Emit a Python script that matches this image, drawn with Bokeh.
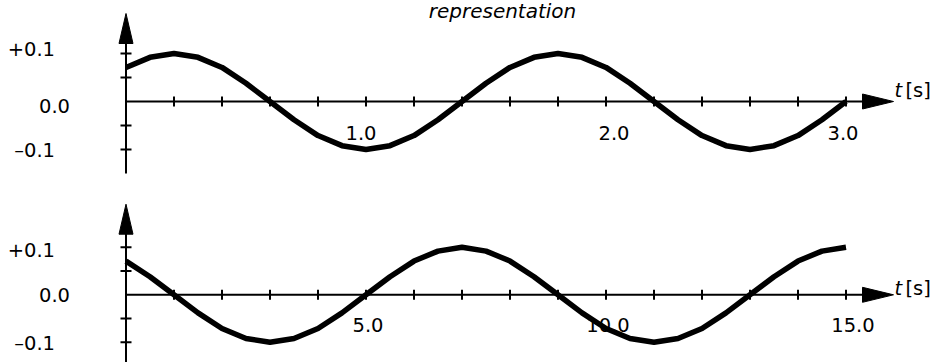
from bokeh.plotting import figure
from bokeh.layouts import column
from bokeh.models import Range1d
from bokeh.core.properties import value
from bokeh.embed import file_html
from bokeh.resources import INLINE

# ---------------- data ----------------
t_top = [0.0, 0.1, 0.2, 0.3, 0.4, 0.5, 0.6, 0.7, 0.8, 0.9, 1.0,
         1.1, 1.2, 1.3, 1.4, 1.5, 1.6, 1.7, 1.8, 1.9, 2.0,
         2.1, 2.2, 2.3, 2.4, 2.5, 2.6, 2.7, 2.8, 2.9, 3.0]
y_top = [0.071, 0.092, 0.100, 0.092, 0.071, 0.038, 0.000, -0.038, -0.071, -0.092, -0.100,
         -0.092, -0.071, -0.038, 0.000, 0.038, 0.071, 0.092, 0.100, 0.092, 0.071,
         0.038, 0.000, -0.038, -0.071, -0.092, -0.100, -0.092, -0.071, -0.038, 0.000]

t_bot = [0.0, 0.5, 1.0, 1.5, 2.0, 2.5, 3.0, 3.5, 4.0, 4.5, 5.0,
         5.5, 6.0, 6.5, 7.0, 7.5, 8.0, 8.5, 9.0, 9.5, 10.0,
         10.5, 11.0, 11.5, 12.0, 12.5, 13.0, 13.5, 14.0, 14.5, 15.0]
y_bot = [0.071, 0.038, 0.000, -0.038, -0.071, -0.092, -0.100, -0.092, -0.071, -0.038, 0.000,
         0.038, 0.071, 0.092, 0.100, 0.092, 0.071, 0.038, 0.000, -0.038, -0.071,
         -0.092, -0.100, -0.092, -0.071, -0.038, 0.000, 0.038, 0.071, 0.092, 0.100]

top_xticks = [0.2, 0.4, 0.6, 0.8, 1.0, 1.2, 1.4, 1.6, 1.8, 2.0, 2.2, 2.4, 2.6, 2.8, 3.0]
top_xlabel_vals = [1.0, 2.0, 3.0]
top_xlabels = ["1.0", "2.0", "3.0"]

bot_xticks = [1, 2, 3, 4, 5, 6, 7, 8, 9, 10, 11, 12, 13, 14, 15]
bot_xlabel_vals = [5.0, 10.0, 15.0]
bot_xlabels = ["5.0", "10.0", "15.0"]

yticks = [-0.1, -0.05, 0.05, 0.1]
ylabel_vals = [0.1, 0.0, -0.1]
ylabels = ["+0.1", "0.0", "\u20130.1"]

title_text = "representation"
axis_unit_italic = "t"
axis_unit_rest = "[s]"

# ---------------- layout (pixels) ----------------
W = 940
FONT = "DejaVu Sans"
FS = "19.5px"
TS = -7   # text baseline correction (px)


def make_panel(t, y, H, ox, oy, sx, sy, xticks, xl_vals, xl_text, xl_dx, xl_base,
               yl_dx, yl_dy, ytop_tip, ybot_px, unit_dy):
    xr = Range1d(-ox / sx, (W - ox) / sx)
    yr = Range1d(-(H - oy) / sy, oy / sy)
    p = figure(width=W, height=H, x_range=xr, y_range=yr,
               x_axis_location=None, y_axis_location=None,
               toolbar_location=None, output_backend="svg",
               min_border=0, outline_line_color=None,
               background_fill_color="white", border_fill_color="white")
    p.xgrid.visible = False
    p.ygrid.visible = False

    X = lambda px: (px - ox) / sx          # figure px -> data x
    Y = lambda py: (oy - py) / sy          # figure py -> data y

    # y axis
    arrow_len, half_w = 30, 7
    p.segment(x0=[0], y0=[Y(ybot_px)], x1=[0], y1=[Y(ytop_tip + arrow_len - 2)],
              line_color="black", line_width=2)
    p.patch(x=[X(ox - half_w), X(ox + half_w), X(ox)],
            y=[Y(ytop_tip + arrow_len), Y(ytop_tip + arrow_len), Y(ytop_tip)],
            fill_color="black", line_color="black", line_width=1)
    # x axis
    tip_x, xlen, half_h = 893, 31, 7.5
    p.segment(x0=[0], y0=[0], x1=[X(tip_x - xlen + 2)], y1=[0],
              line_color="black", line_width=2)
    p.patch(x=[X(tip_x - xlen), X(tip_x - xlen), X(tip_x)],
            y=[Y(oy - half_h), Y(oy + half_h), 0],
            fill_color="black", line_color="black", line_width=1)

    # ticks
    p.scatter(x=[0] * len(yticks), y=yticks, marker="dash", size=11,
              line_color="black", line_width=2)
    p.scatter(x=xticks, y=[0] * len(xticks), marker="dash", size=10, angle=1.5708,
              line_color="black", line_width=2)

    # curve
    p.line(t, y, line_color="black", line_width=5.5, line_join="round")

    # y tick labels
    for v, s, dx, dy in zip(ylabel_vals, ylabels, yl_dx, yl_dy):
        p.text(x=[0], y=[v], text=[s], x_offset=dx, y_offset=dy + TS,
               text_align="right", text_baseline="alphabetic",
               text_font=value(FONT), text_font_size=FS, text_color="black")
    # x tick labels
    for v, s, dx in zip(xl_vals, xl_text, xl_dx):
        p.text(x=[v], y=[0], text=[s], x_offset=dx, y_offset=xl_base + TS,
               text_align="center", text_baseline="alphabetic",
               text_font=value(FONT), text_font_size=FS, text_color="black")
    # axis unit
    p.text(x=[X(894)], y=[0], text=[axis_unit_italic], y_offset=unit_dy + TS,
           text_align="left", text_baseline="alphabetic", text_font_style="italic",
           text_font=value(FONT), text_font_size=FS, text_color="black")
    p.text(x=[X(905)], y=[0], text=[axis_unit_rest], y_offset=unit_dy + TS,
           text_align="left", text_baseline="alphabetic",
           text_font=value(FONT), text_font_size=FS, text_color="black")
    return p, X, Y


p1, X1, Y1 = make_panel(t_top, y_top, H=181, ox=125.5, oy=101, sx=240, sy=480,
                        xticks=top_xticks, xl_vals=top_xlabel_vals, xl_text=top_xlabels,
                        xl_dx=[-5, 8, -3], xl_base=38,
                        yl_dx=[-71, -56, -71], yl_dy=[2, 11, 8],
                        ytop_tip=13, ybot_px=173, unit_dy=-4)
p1.text(x=[X1(502)], y=[Y1(10)], text=[title_text], text_align="center",
        text_baseline="alphabetic", text_font_style="italic",
        text_font=value(FONT), text_font_size="20px", text_color="black")

p2, X2, Y2 = make_panel(t_bot, y_bot, H=181, ox=125.5, oy=113.3, sx=48, sy=475,
                        xticks=bot_xticks, xl_vals=bot_xlabel_vals, xl_text=bot_xlabels,
                        xl_dx=[2, 2, 7], xl_base=37,
                        yl_dx=[-71, -56, -71], yl_dy=[10, 7, 8],
                        ytop_tip=22.7, ybot_px=183, unit_dy=1)

layout = column(p1, p2, spacing=0)
open("out.html", "w").write(file_html(layout, INLINE))
